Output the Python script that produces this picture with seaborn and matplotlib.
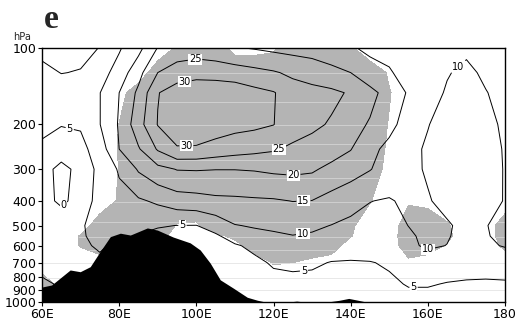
import matplotlib
matplotlib.use('Agg')
import matplotlib.pyplot as plt
import numpy as np
import seaborn as sns

# longitude / pressure grid the field was read on
lons = [60, 65, 70, 75, 80, 85, 90, 95, 100, 105, 110, 115, 120,
        125, 130, 135, 140, 145, 150, 155, 160, 165, 170, 175, 180]
plevs = [100, 125, 150, 200, 250, 300, 400, 500, 550, 600, 700, 850, 1000]

# zonal wind (m/s), one row per pressure level
u_100 = [4, 3.5, 4, 5.1, 9.5, 13.5, 20.2, 21.5, 22.5, 22, 20.3, 19.7, 19, 18.5, 18, 17, 15.5, 14, 13.5, 13, 12.5, 11.5, 10.8, 12, 13]
u_125 = [6, 4.9, 5.2, 8, 12, 18.5, 25, 28, 28.5, 28, 27.5, 26.5, 25.5, 24, 23, 21.5, 20, 17, 15.5, 13, 12, 10.3, 9, 10.8, 12.5]
u_150 = [7, 7, 7, 9.9, 15, 21, 29.8, 32, 33, 33.5, 33, 31.5, 30.3, 27.5, 26.5, 26, 24.5, 21.5, 18, 14.5, 12, 9.5, 8, 9.8, 11.5]
u_200 = [6.3, 5.2, 5.5, 9.9, 15.5, 23, 30.2, 33, 33.5, 32.5, 31.5, 31, 30.1, 27.5, 26, 24.5, 22, 19.5, 16, 13.5, 10.2, 8, 7, 9, 10.6]
u_250 = [4, 2.5, 3.5, 7.5, 15, 19.5, 25.5, 29.5, 29.3, 28, 27, 26.3, 25.5, 24, 23, 22, 20.2, 16, 14, 11.5, 9.3, 7.5, 6.5, 8.5, 10.3]
u_300 = [2, -1.5, 1.5, 6.5, 10.5, 15.5, 18.5, 20.2, 20.3, 20.1, 20.1, 20.3, 20.8, 21, 20.6, 18.8, 17, 15.2, 13, 11.2, 9.5, 7.5, 6.5, 8.5, 10.2]
u_400 = [1.5, -0.8, 1.5, 7.3, 8.5, 9.3, 10.8, 12.5, 13, 13.8, 14, 14.3, 14.5, 15.1, 14.9, 13, 11.5, 10.1, 9.6, 11, 10.4, 8.5, 7, 9.3, 10.1]
u_500 = [2, 3, 4.3, 7.5, 7, 6, 5.3, 4.95, 4.9, 7, 9.8, 10.4, 10.6, 11, 10.8, 9.9, 9, 8.5, 8.8, 10.05, 11, 10.6, 8.5, 9.8, 11.5]
u_550 = [2.2, 2.5, 4.2, 7, 5.5, 4.8, 4, 4.3, 4.2, 4.3, 7, 8.7, 9.5, 9.9, 9.5, 8.3, 8, 7.8, 8.5, 9.5, 10.8, 10.4, 8.3, 9.7, 11]
u_600 = [2.5, 2.5, 4.2, 5.6, 4, 4, 4, 4, 4, 4.2, 4.5, 6, 8, 8.5, 8.2, 7.5, 7.3, 7.2, 8, 9, 10.8, 9.9, 7.5, 9.3, 10.3]
u_700 = [3.5, 3.5, 4, 4, 4, 4, 4, 4, 4, 4, 4.2, 4, 5.5, 6, 5.7, 4.8, 4.6, 4.8, 5.5, 6.5, 7, 7, 6.5, 6.8, 7]
u_850 = [5.8, 4.5, 4, 4, 4, 4, 4, 4, 4, 4, 3.5, 3.5, 3.5, 3.5, 3.5, 3.5, 3.5, 3.8, 4.2, 5.3, 5.3, 4.8, 4.6, 4.4, 4.5]
u_1000 = [6, 4, 3, 3, 3, 3, 3, 3, 3, 3, 3, 3, 3, 3, 3, 3, 3, 3, 3, 3.5, 3.5, 3, 3, 3, 3]

# shaded area (1 = shaded), same grid
s_100 = [0, 0, 0, 0, 0, 0, 0, .6, 1, .8, .3, .3, .4, 1, 1, 1, .6, 0, 0, 0, 0, 0, 0, 0, 0]
s_125 = [0, 0, 0, 0, 0, 0, 1, 1, 1, 1, 1, 1, 1, 1, 1, 1, 1, 1, .4, 0, 0, 0, 0, 0, 0]
s_150 = [0, 0, 0, 0, .2, 1, 1, 1, 1, 1, 1, 1, 1, 1, 1, 1, 1, 1, .55, 0, 0, 0, 0, 0, 0]
s_200 = [0, 0, 0, 0, .52, 1, 1, 1, 1, 1, 1, 1, 1, 1, 1, 1, 1, 1, .45, 0, 0, 0, 0, 0, 0]
s_250 = [0, 0, 0, 0, .55, 1, 1, 1, 1, 1, 1, 1, 1, 1, 1, 1, 1, 1, .35, 0, 0, 0, 0, 0, 0]
s_300 = [0, 0, 0, 0, .52, 1, 1, 1, 1, 1, 1, 1, 1, 1, 1, 1, 1, 1, .2, 0, 0, 0, 0, 0, 0]
s_400 = [0, 0, 0, 0, .6, 1, 1, 1, 1, 1, 1, 1, 1, 1, 1, 1, 1, .55, 0, .4, .3, 0, 0, 0, 0]
s_500 = [0, 0, 0, 1, 1, 1, 1, .45, .4, 1, 1, 1, 1, 1, 1, 1, .65, 0, 0, 1, 1, .6, 0, 0, 1]
s_550 = [0, 0, .55, 1, 1, 1, 1, 0, 0, .3, .7, 1, 1, 1, 1, 1, .55, 0, .1, 1, 1, .7, 0, 0, 1]
s_600 = [0, 0, .55, 1, 1, 1, 1, 0, 0, 0, .2, .9, 1, 1, 1, 1, 0, 0, 0, 1, 1, .4, 0, 0, .7]
s_700 = [0, 0, 0, 0, 1, 1, 1, 0, 0, 0, 0, 0, .55, .5, .3, 0, 0, 0, 0, .3, 0, 0, 0, 0, 0]
s_850 = [1, .2, 0, 0, 0, 0, 0, 0, 0, 0, 0, 0, 0, 0, 0, 0, 0, 0, 0, 0, 0, 0, 0, 0, 0]
s_1000 = [1, 0, 0, 0, 0, 0, 0, 0, 0, 0, 0, 0, 0, 0, 0, 0, 0, 0, 0, 0, 0, 0, 0, 0, 0]

# surface pressure along the section (terrain)
terrain_lon = [60, 62.5, 67.3, 69.9, 72.5, 75, 77.7, 80.3, 82.9, 87.3, 89.9, 94, 98.4, 101,
               103.6, 106.2, 109.6, 113.2, 115.8, 117.9, 124, 126, 128, 134, 137, 139.5, 142, 144, 180]
terrain_p = [873, 857, 748, 760, 726, 635, 553, 536, 545, 511, 521, 555, 585, 624,
             703, 818, 882, 958, 984, 1000, 1000, 992, 1000, 1000, 985, 968, 985, 1000, 1000]

# faint raster streaks seen in the plot
streak_upper = [125, 163, 201, 239, 276, 325, 404, 484, 555, 625]
streak_lower = [703, 804, 897]

contour_levels = [0, 5, 10, 15, 20, 25, 30]
label_spots = [(99.7, 118), (121.5, 257), (97, 135), (97.4, 236), (125.2, 322),
               (127.8, 408), (127.8, 545), (160.5, 645), (167.8, 112),
               (67.3, 195), (96.4, 494), (128, 760), (156.3, 920), (65.4, 410)]

xticks = [60, 80, 100, 120, 140, 160, 180]
xticklabels = ['60E', '80E', '100E', '120E', '140E', '160E', '180']
yticks = [100, 200, 300, 400, 500, 600, 700, 800, 900, 1000]

sns.set_theme(style='ticks')
plt.rcParams['font.family'] = ['DejaVu Sans']

u = np.array([u_100, u_125, u_150, u_200, u_250, u_300, u_400, u_500,
              u_550, u_600, u_700, u_850, u_1000])
shade = np.array([s_100, s_125, s_150, s_200, s_250, s_300, s_400, s_500,
                  s_550, s_600, s_700, s_850, s_1000])

fig = plt.figure(figsize=(5.17, 3.22), dpi=100)
ax = fig.add_axes([42 / 517, 20 / 322, 463 / 517, 254 / 322])

cf = ax.contourf(lons, plevs, shade, levels=[0.5, 2], colors=['#b4b4b4'], zorder=1)
gray_path = cf.get_paths()[0]
for p in streak_upper:
    ln = ax.axhline(p, color='#d4d4d4', lw=0.6, zorder=1.5)
    ln.set_clip_path(gray_path, ax.transData)
for p in streak_lower:
    ax.axhline(p, color='#e4e4e4', lw=0.6, zorder=1.5)

cs = ax.contour(lons, plevs, u, levels=contour_levels, colors='black',
                linewidths=0.7, zorder=2)
ax.fill_between(terrain_lon, terrain_p, 1000, color='black', lw=0, zorder=3)

labels = ax.clabel(cs, contour_levels, fmt='%d', fontsize=7, inline=True,
                   inline_spacing=1, manual=label_spots)
for t in labels:
    t.set_rotation(0)
    t.set_bbox(dict(facecolor='white', edgecolor='none', pad=0.4))
    t.set_zorder(4)

ax.set_yscale('log')
ax.set_xlim(60, 180)
ax.set_ylim(1000, 100)
ax.set_xticks(xticks)
ax.set_xticklabels(xticklabels)
ax.yaxis.set_minor_locator(matplotlib.ticker.NullLocator())
ax.set_yticks(yticks)
ax.set_yticklabels([str(v) for v in yticks])
ax.tick_params(direction='out', length=3, width=0.8, labelsize=9, pad=1,
               colors='black')
for s in ax.spines.values():
    s.set_linewidth(1.0)
    s.set_color('black')
    s.set_zorder(5)

fig.text(13 / 517, 1 - 37 / 322, 'hPa', fontsize=7, va='center', ha='left')
fig.text(44 / 517, 1 - 20 / 322, 'e', fontsize=24, fontweight='bold',
         family='Liberation Serif', va='center', ha='left')

fig.savefig('out.png', dpi=100)
